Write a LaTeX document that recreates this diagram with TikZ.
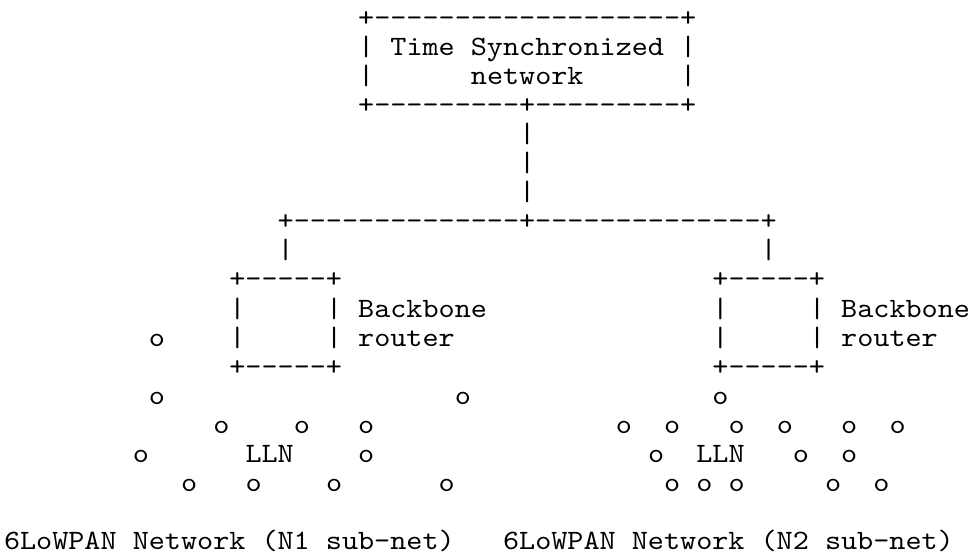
\documentclass[tikz,border=0pt]{standalone}
\usepackage{fontspec}
\newfontfamily\asciifont{lmmono10-regular.otf}[Ligatures=TeXOff]
% one character cell: 16.1 px wide, 29.1 px high; text sits on its baseline
\tikzset{
  ascii/.style={anchor=base west, inner sep=0pt, outer sep=0pt,
    xscale=1.095, transform shape,
    font=\asciifont\fontsize{21pt}{25pt}\selectfont, text=black},
}
% \asc{name}{column}{row}{text}
\newcommand\asc[4]{\node[ascii] (#1) at ({4+16.1*(#2)},{26+29.1*((#3)-1)}) {#4};}
\begin{document}
\begin{tikzpicture}[x=0.75pt,y=-0.75pt]
\useasboundingbox (0,0) rectangle (970,558);

% time synchronized network box
\asc{tsnTop}{22}{1}{+-------------------+}
\asc{tsnL1}{22}{2}{|}
\asc{tsnText1}{24}{2}{Time Synchronized}
\asc{tsnR1}{42}{2}{|}
\asc{tsnL2}{22}{3}{|}
\asc{tsnText2}{29}{3}{network}
\asc{tsnR2}{42}{3}{|}
\asc{tsnBot}{22}{4}{+---------+---------+}

% trunk down to the backbone bus
\asc{trunkA}{32}{5}{|}
\asc{trunkB}{32}{6}{|}
\asc{trunkC}{32}{7}{|}
\asc{bus}{17}{8}{+--------------+--------------+}
\asc{dropL}{17}{9}{|}
\asc{dropR}{47}{9}{|}

% backbone router N1
\asc{brLtop}{14}{10}{+-----+}
\asc{brLa}{14}{11}{|}
\asc{brLb}{20}{11}{|}
\asc{brLlab1}{22}{11}{Backbone}
\asc{brLc}{14}{12}{|}
\asc{brLd}{20}{12}{|}
\asc{brLlab2}{22}{12}{router}
\asc{brLbot}{14}{13}{+-----+}

% backbone router N2
\asc{brRtop}{44}{10}{+-----+}
\asc{brRa}{44}{11}{|}
\asc{brRb}{50}{11}{|}
\asc{brRlab1}{52}{11}{Backbone}
\asc{brRc}{44}{12}{|}
\asc{brRd}{50}{12}{|}
\asc{brRlab2}{52}{12}{router}
\asc{brRbot}{44}{13}{+-----+}

% LLN nodes
\asc{nA}{9}{12}{o}
\foreach \c [count=\i] in {9,28,44} {\asc{nB\i}{\c}{14}{o}}
\foreach \c [count=\i] in {13,18,22,38,41,45,48,52,55} {\asc{nC\i}{\c}{15}{o}}
\foreach \c [count=\i] in {8,22,40,49,52} {\asc{nD\i}{\c}{16}{o}}
\foreach \c [count=\i] in {11,15,20,27,41,43,45,51,54} {\asc{nE\i}{\c}{17}{o}}
\asc{llnL}{15}{16}{LLN}
\asc{llnR}{43}{16}{LLN}

% sub-network captions
\asc{capL}{0}{19}{6LoWPAN Network (N1 sub-net)}
\asc{capR}{31}{19}{6LoWPAN Network (N2 sub-net)}
\end{tikzpicture}
\end{document}
